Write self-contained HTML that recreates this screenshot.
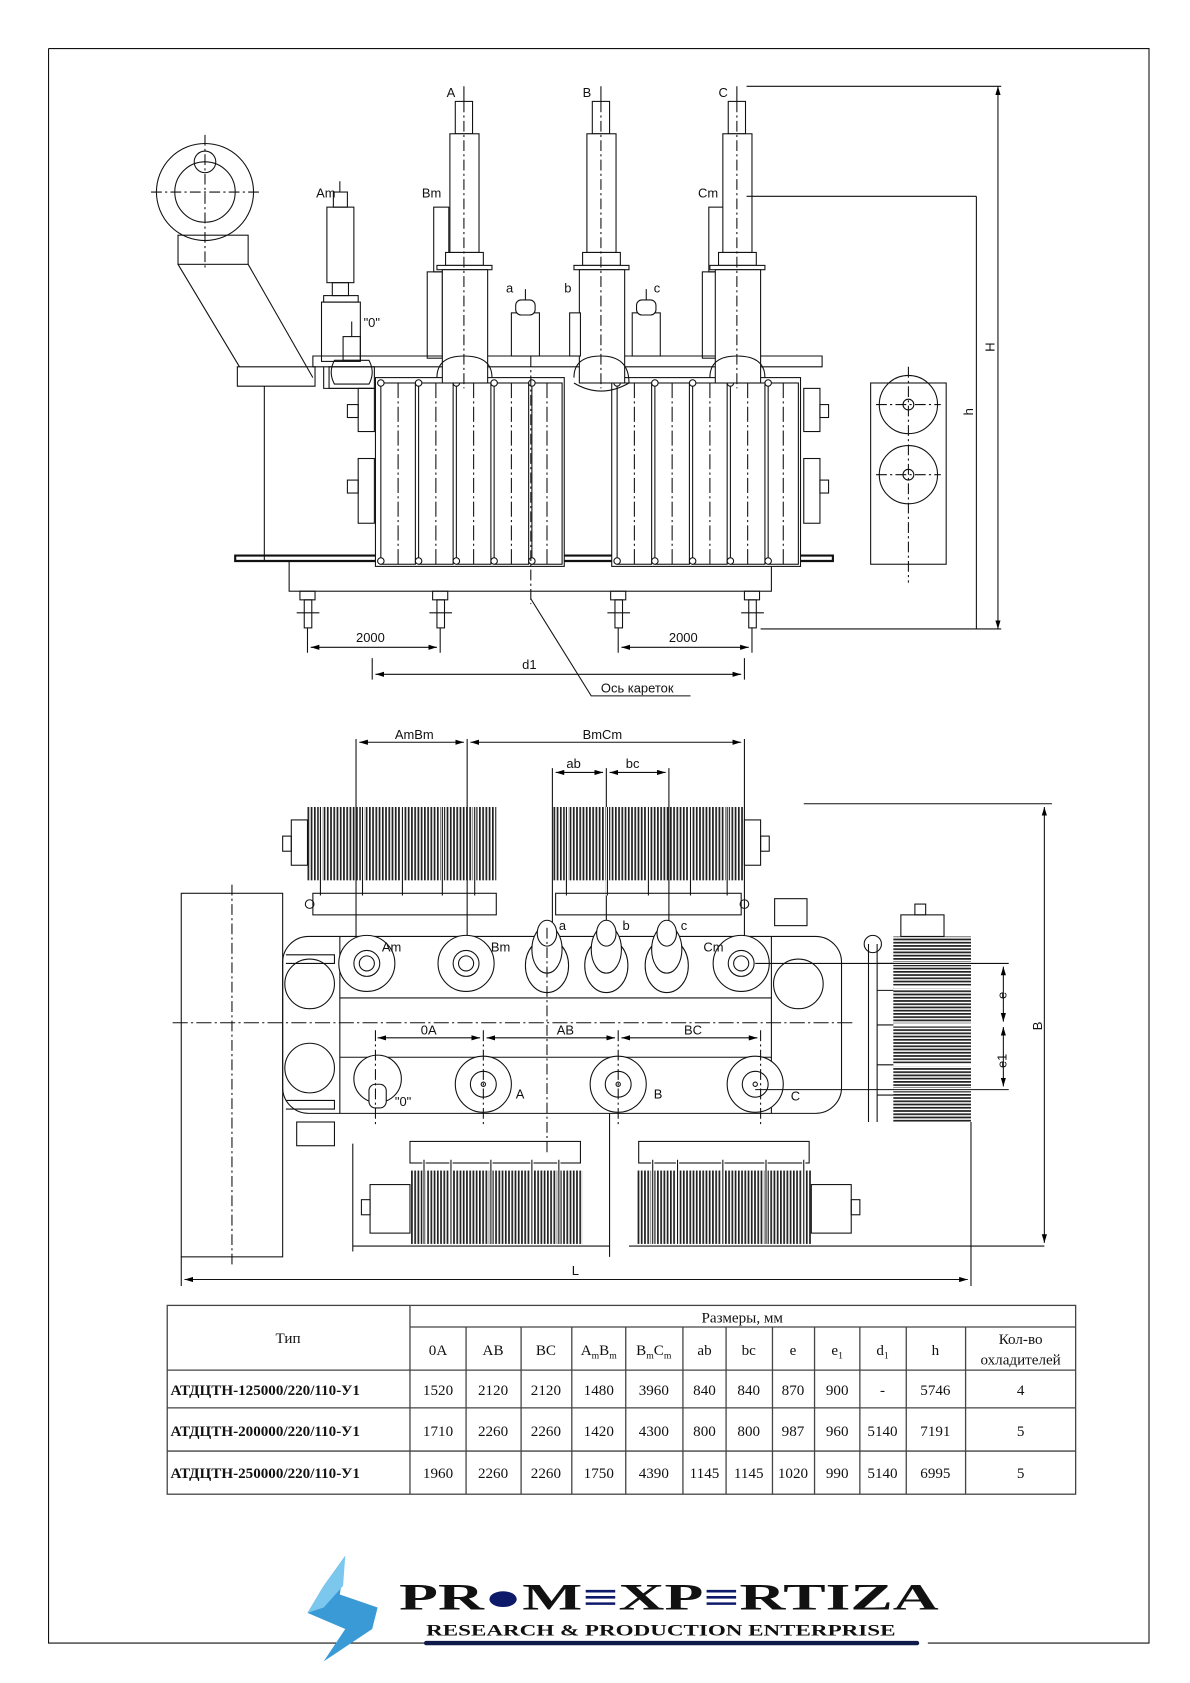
<!DOCTYPE html>
<html><head><meta charset="utf-8"><style>
html,body{margin:0;padding:0;background:#fff}
svg{display:block}
text{font-family:"Liberation Sans","DejaVu Sans",sans-serif;fill:#111}
.t{font-family:"Liberation Serif","DejaVu Serif",serif}
</style></head><body>
<svg width="1190" height="1683" viewBox="0 0 1103 1560" preserveAspectRatio="none" xmlns="http://www.w3.org/2000/svg">
<defs>
<pattern id="fin" width="3" height="10" patternUnits="userSpaceOnUse"><rect x="0" y="0" width="1.6" height="10" fill="#222"/></pattern>
<pattern id="finh" width="10" height="3" patternUnits="userSpaceOnUse"><rect x="0" y="0" width="10" height="1.6" fill="#222"/></pattern>
<marker id="ar" viewBox="0 0 10 6" refX="10" refY="3" markerWidth="8" markerHeight="5" orient="auto-start-reverse"><path d="M0,0L10,3L0,6z" fill="#000"/></marker>
</defs>
<g fill="none" stroke="#111" stroke-width="1">
<!-- border -->
<path d="M45,45H1065V1523H860M395,1523H45V45"/>

<!-- ===== ELEVATION ===== -->
<circle cx="190" cy="178" r="45"/><circle cx="190" cy="178" r="28"/><circle cx="190" cy="150" r="10"/>
<path d="M140,178H240M190,125V250" stroke-dasharray="10,3,2,3"/>
<rect x="165" y="218" width="65" height="27"/>
<path d="M165,245L222,340M230,245L290,350M220,340H292V358H220z"/>
<path d="M245,358V520M290,330H762V340H290zM300,340V360H345"/>
<path d="M218,515H772V520H218z" stroke-width="2"/>
<rect x="268" y="520" width="447" height="28"/>
<g>
<rect x="278" y="548" width="14" height="8"/><rect x="282" y="556" width="7" height="26"/><path d="M275,568H296"/>
<rect x="401" y="548" width="14" height="8"/><rect x="405" y="556" width="7" height="26"/><path d="M398,568H419"/>
<rect x="566" y="548" width="14" height="8"/><rect x="570" y="556" width="7" height="26"/><path d="M563,568H584"/>
<rect x="690" y="548" width="14" height="8"/><rect x="694" y="556" width="7" height="26"/><path d="M687,568H708"/>
</g>
<!-- tank side lugs -->
<rect x="332" y="360" width="15" height="40"/><rect x="332" y="425" width="15" height="60"/><rect x="322" y="375" width="10" height="12"/><rect x="322" y="445" width="10" height="12"/>
<rect x="745" y="360" width="15" height="40"/><rect x="745" y="425" width="15" height="60"/><rect x="760" y="375" width="8" height="12"/><rect x="760" y="445" width="8" height="12"/>
<!-- radiators -->
<g fill="#fff">
<rect x="348" y="350" width="175" height="175"/>
<rect x="353" y="355" width="32" height="168"/><rect x="388" y="355" width="32" height="168"/><rect x="423" y="355" width="32" height="168"/><rect x="458" y="355" width="32" height="168"/><rect x="493" y="355" width="28" height="168"/>
<rect x="567" y="350" width="175" height="175"/>
<rect x="572" y="355" width="32" height="168"/><rect x="607" y="355" width="32" height="168"/><rect x="642" y="355" width="32" height="168"/><rect x="677" y="355" width="32" height="168"/><rect x="712" y="355" width="28" height="168"/>
</g>
<path d="M369,355V523M404,355V523M439,355V523M474,355V523M507,355V523M588,355V523M623,355V523M658,355V523M693,355V523M726,355V523" stroke-dasharray="14,3,2,3"/>
<g fill="#fff"><circle cx="353" cy="355" r="3"/><circle cx="388" cy="355" r="3"/><circle cx="423" cy="355" r="3"/><circle cx="458" cy="355" r="3"/><circle cx="493" cy="355" r="3"/><circle cx="353" cy="520" r="3"/><circle cx="388" cy="520" r="3"/><circle cx="423" cy="520" r="3"/><circle cx="458" cy="520" r="3"/><circle cx="493" cy="520" r="3"/><circle cx="572" cy="355" r="3"/><circle cx="607" cy="355" r="3"/><circle cx="642" cy="355" r="3"/><circle cx="677" cy="355" r="3"/><circle cx="712" cy="355" r="3"/><circle cx="572" cy="520" r="3"/><circle cx="607" cy="520" r="3"/><circle cx="642" cy="520" r="3"/><circle cx="677" cy="520" r="3"/><circle cx="712" cy="520" r="3"/></g>
<!-- Am bushing -->
<rect x="303" y="192" width="25" height="70"/><rect x="309" y="178" width="13" height="14"/><path d="M315,168V178"/><rect x="308" y="262" width="15" height="12"/><rect x="300" y="274" width="32" height="6"/><rect x="298" y="280" width="36" height="55"/>
<!-- Bm / Cm partially hidden -->
<rect x="402" y="192" width="14" height="60"/><rect x="396" y="252" width="14" height="80"/>
<rect x="657" y="192" width="14" height="60"/><rect x="651" y="252" width="14" height="80"/>
<!-- A B C bushings -->
<g fill="#fff">
<rect x="422" y="94" width="16" height="30"/><rect x="417" y="124" width="27" height="110"/><rect x="413" y="234" width="35" height="12"/><rect x="405" y="246" width="51" height="4"/><rect x="410" y="250" width="42" height="105"/>
<rect x="549" y="94" width="16" height="30"/><rect x="544" y="124" width="27" height="110"/><rect x="540" y="234" width="35" height="12"/><rect x="532" y="246" width="51" height="4"/><rect x="537" y="250" width="42" height="105"/>
<rect x="675" y="94" width="16" height="30"/><rect x="670" y="124" width="27" height="110"/><rect x="666" y="234" width="35" height="12"/><rect x="658" y="246" width="51" height="4"/><rect x="663" y="250" width="42" height="105"/>
</g>
<path d="M430,80V94M557,80V94M683,80V94"/>
<path d="M430,94V360M557,94V360M683,94V360" stroke-dasharray="10,3,2,3"/>
<path d="M405,350Q405,330 430,330Q456,330 456,350M532,350Q532,330 557,330Q583,330 583,355Q557,370 532,355M658,350Q658,330 683,330Q709,330 709,350"/>
<!-- a b c -->
<g fill="#fff">
<rect x="474" y="290" width="26" height="40"/><rect x="478" y="278" width="18" height="14" rx="5"/><path d="M487,268V278"/>
<rect x="586" y="290" width="26" height="40"/><rect x="590" y="278" width="18" height="14" rx="5"/><path d="M599,268V278"/>
<rect x="528" y="290" width="10" height="40"/>
</g>
<!-- 0 bushing -->
<rect x="318" y="312" width="16" height="22"/><path d="M326,298V312M310,334H342Q348,345 342,356H310Q304,345 310,334z"/><rect x="305" y="340" width="42" height="20"/>
<!-- side small view -->
<rect x="807" y="355" width="70" height="168"/><circle cx="842" cy="375" r="27"/><circle cx="842" cy="440" r="27"/><circle cx="842" cy="375" r="5"/><circle cx="842" cy="440" r="5"/>
<path d="M812,375H872M812,440H872M842,340V540" stroke-dasharray="10,3,2,3"/>
<!-- H h dims -->
<path d="M692,80H928M692,182H905M705,583H928"/>
<path d="M925,80V583" marker-start="url(#ar)" marker-end="url(#ar)"/>
<path d="M905,182V583"/>
<!-- 2000 dims -->
<path d="M285,582V605M408,582V605M573,582V605M697,582V605M345,610V630M690,610V630"/>
<path d="M288,600H405" marker-start="url(#ar)" marker-end="url(#ar)"/>
<path d="M576,600H694" marker-start="url(#ar)" marker-end="url(#ar)"/>
<path d="M348,625H687" marker-start="url(#ar)" marker-end="url(#ar)"/>
<path d="M492,330V560" stroke-dasharray="10,3,2,3"/>
<path d="M492,555L548,645H640"/>

<!-- ===== PLAN ===== -->
<path d="M330,685V870M433,685V870M690,685V870M512,712V880M562,712V880M620,712V880"/>
<path d="M333,688H430" marker-start="url(#ar)" marker-end="url(#ar)"/>
<path d="M436,688H687" marker-start="url(#ar)" marker-end="url(#ar)"/>
<path d="M515,716H559" marker-start="url(#ar)" marker-end="url(#ar)"/>
<path d="M565,716H617" marker-start="url(#ar)" marker-end="url(#ar)"/>
<!-- top coolers -->
<rect x="285" y="748" width="175" height="68" fill="url(#fin)" stroke="none"/>
<rect x="512" y="748" width="178" height="68" fill="url(#fin)" stroke="none"/>
<rect x="270" y="760" width="15" height="42"/><rect x="262" y="775" width="8" height="14"/>
<rect x="690" y="760" width="15" height="42"/><rect x="705" y="775" width="8" height="14"/>
<path d="M297,748V830M336,748V830M373,748V830M410,748V830M440,748V830M525,748V830M563,748V830M601,748V830M640,748V830M674,748V830" stroke="#fff" stroke-width="3"/>
<path d="M297,748V830M336,748V830M373,748V830M410,748V830M440,748V830M525,748V830M563,748V830M601,748V830M640,748V830M674,748V830"/>
<rect x="290" y="828" width="170" height="20"/><rect x="515" y="828" width="172" height="20"/>
<circle cx="287" cy="838" r="4"/><circle cx="690" cy="838" r="4"/>
<!-- conservator -->
<rect x="168" y="828" width="94" height="337"/><path d="M215,820V1172" stroke-dasharray="10,3,2,3"/>
<rect x="718" y="833" width="30" height="25"/><rect x="275" y="1040" width="35" height="22"/>
<!-- tank plan -->
<rect x="262" y="868" width="518" height="164" rx="24"/>
<path d="M315,868V1032M715,868V1032M315,925H715M315,980H715M265,885H310V893H265M265,1020H310V1028H265"/>
<path d="M160,948H790" stroke-dasharray="14,3,2,3"/>
<circle cx="287" cy="912" r="23"/><circle cx="287" cy="990" r="23"/><circle cx="740" cy="912" r="23"/>
<g fill="#fff">
<circle cx="340" cy="893" r="26"/><circle cx="340" cy="893" r="12"/><circle cx="340" cy="893" r="7"/>
<circle cx="432" cy="893" r="26"/><circle cx="432" cy="893" r="12"/><circle cx="432" cy="893" r="7"/>
<circle cx="687" cy="893" r="26"/><circle cx="687" cy="893" r="12"/><circle cx="687" cy="893" r="7"/>
<circle cx="448" cy="1005" r="26"/><circle cx="448" cy="1005" r="12"/><circle cx="448" cy="1005" r="2"/>
<circle cx="573" cy="1005" r="26"/><circle cx="573" cy="1005" r="12"/><circle cx="573" cy="1005" r="2"/>
<circle cx="700" cy="1005" r="26"/><circle cx="700" cy="1005" r="12"/><circle cx="700" cy="1005" r="2"/>
<ellipse cx="507" cy="895" rx="20" ry="25"/><ellipse cx="507" cy="880" rx="14" ry="22"/><ellipse cx="507" cy="865" rx="9" ry="12"/>
<ellipse cx="562" cy="895" rx="20" ry="25"/><ellipse cx="562" cy="880" rx="14" ry="22"/><ellipse cx="562" cy="865" rx="9" ry="12"/>
<ellipse cx="618" cy="895" rx="20" ry="25"/><ellipse cx="618" cy="880" rx="14" ry="22"/><ellipse cx="618" cy="865" rx="9" ry="12"/>
<ellipse cx="350" cy="1000" rx="22" ry="22"/><rect x="342" y="1005" width="16" height="22" rx="6"/>
</g>
<path d="M348,955V1045M448,955V1045M573,955V1045M705,955V1045" stroke-dasharray="10,3,2,3"/>
<path d="M350,962H445" marker-start="url(#ar)" marker-end="url(#ar)"/>
<path d="M451,962H570" marker-start="url(#ar)" marker-end="url(#ar)"/>
<path d="M576,962H702" marker-start="url(#ar)" marker-end="url(#ar)"/>
<path d="M507,860V1070" stroke-dasharray="10,3,2,3"/>
<path d="M565,1032V1165"/>
<!-- bottom coolers -->
<rect x="380" y="1085" width="160" height="68" fill="url(#fin)" stroke="none"/>
<rect x="590" y="1085" width="162" height="68" fill="url(#fin)" stroke="none"/>
<rect x="343" y="1098" width="37" height="45"/><rect x="335" y="1112" width="8" height="14"/>
<rect x="752" y="1098" width="37" height="45"/><rect x="789" y="1112" width="8" height="14"/>
<rect x="380" y="1058" width="158" height="20"/><rect x="592" y="1058" width="158" height="20"/>
<path d="M393,1075V1153M418,1075V1153M455,1075V1153M493,1075V1153M518,1075V1153M605,1075V1153M628,1075V1153M670,1075V1153M710,1075V1153M745,1075V1153" stroke="#fff" stroke-width="3"/>
<path d="M393,1075V1153M418,1075V1153M455,1075V1153M493,1075V1153M518,1075V1153M605,1075V1153M628,1075V1153M670,1075V1153M710,1075V1153M745,1075V1153"/>
<path d="M327,1060V1160M327,1155H565M583,1155H968"/>
<!-- right cooler -->
<rect x="828" y="868" width="72" height="172" fill="url(#finh)" stroke="none"/>
<path d="M828,893H900M828,915H900M828,950H900M828,987H900M828,1010H900" stroke="#fff" stroke-width="3"/>
<rect x="835" y="848" width="40" height="20"/><rect x="848" y="838" width="10" height="10"/>
<path d="M805,875V1040M813,875V1040M813,893H828M813,918H828M813,950H828M813,987H828M813,1015H828"/>
<circle cx="809" cy="875" r="8"/>
<path d="M700,893H935M700,1010H935M745,745H975"/>
<path d="M930,896V947" marker-start="url(#ar)" marker-end="url(#ar)"/>
<path d="M930,952V1007" marker-start="url(#ar)" marker-end="url(#ar)"/>
<path d="M968,748V1152" marker-start="url(#ar)" marker-end="url(#ar)"/>
<path d="M168,1165V1192M900,1040V1192"/>
<path d="M171,1186H897" marker-start="url(#ar)" marker-end="url(#ar)"/>

<!-- ===== TABLE ===== -->
<g stroke="#444" stroke-width="1.2">
<rect x="155" y="1210" width="842" height="175"/>
<path d="M380,1230H997M155,1270H997M155,1305H997M155,1345H997M380,1210V1385M432,1230V1385M483,1230V1385M530,1230V1385M580,1230V1385M633,1230V1385M673,1230V1385M716,1230V1385M755,1230V1385M797,1230V1385M840,1230V1385M895,1230V1385"/>
</g>
<!-- logo underline -->
<path d="M395,1523H850" stroke="#0d1a4a" stroke-width="4" stroke-linecap="round"/>
</g>

<!-- labels -->
<g font-size="12">
<text x="414" y="90">A</text><text x="540" y="90">B</text><text x="666" y="90">C</text>
<text x="293" y="183">Am</text><text x="391" y="183">Bm</text><text x="647" y="183">Cm</text>
<text x="469" y="271">a</text><text x="523" y="271">b</text><text x="606" y="271">c</text>
<text x="337" y="303">"0"</text>
<text x="330" y="595">2000</text><text x="620" y="595">2000</text><text x="484" y="620">d1</text>
<text x="557" y="642">Ось кареток</text>
<text transform="translate(922,326) rotate(-90)">H</text>
<text transform="translate(902,385) rotate(-90)">h</text>
<text x="366" y="685">AmBm</text><text x="540" y="685">BmCm</text>
<text x="525" y="712">ab</text><text x="580" y="712">bc</text>
<text x="354" y="882">Am</text><text x="455" y="882">Bm</text><text x="652" y="882">Cm</text>
<text x="518" y="862">a</text><text x="577" y="862">b</text><text x="631" y="862">c</text>
<text x="390" y="959">0A</text><text x="516" y="959">AB</text><text x="634" y="959">BC</text>
<text x="478" y="1018">A</text><text x="606" y="1018">B</text><text x="733" y="1020">C</text>
<text x="366" y="1025">"0"</text>
<text transform="translate(933,926) rotate(-90)">e</text>
<text transform="translate(933,990) rotate(-90)">e1</text>
<text transform="translate(966,955) rotate(-90)">B</text>
<text x="530" y="1182">L</text>
</g>
<g class="t" font-size="14" text-anchor="middle">
<text class="t" x="688" y="1226">Размеры, мм</text>
<text class="t" x="267" y="1245">Тип</text>
<text class="t" x="406" y="1256">0A</text><text class="t" x="457" y="1256">AB</text><text class="t" x="506" y="1256">BC</text>
<text class="t" x="555" y="1256">A<tspan font-size="9" dy="3">m</tspan><tspan dy="-3">B</tspan><tspan font-size="9" dy="3">m</tspan></text>
<text class="t" x="606" y="1256">B<tspan font-size="9" dy="3">m</tspan><tspan dy="-3">C</tspan><tspan font-size="9" dy="3">m</tspan></text>
<text class="t" x="653" y="1256">ab</text><text class="t" x="694" y="1256">bc</text><text class="t" x="735" y="1256">e</text>
<text class="t" x="776" y="1256">e<tspan font-size="9" dy="3">1</tspan></text>
<text class="t" x="818" y="1256">d<tspan font-size="9" dy="3">1</tspan></text>
<text class="t" x="867" y="1256">h</text>
<text class="t" x="946" y="1246">Кол-во</text><text class="t" x="946" y="1265">охладителей</text>
<g font-weight="bold" text-anchor="start"><text class="t" x="158" y="1293">АТДЦТН-125000/220/110-У1</text><text class="t" x="158" y="1331">АТДЦТН-200000/220/110-У1</text><text class="t" x="158" y="1370">АТДЦТН-250000/220/110-У1</text></g>
<text class="t" x="406" y="1293">1520</text><text class="t" x="457" y="1293">2120</text><text class="t" x="506" y="1293">2120</text><text class="t" x="555" y="1293">1480</text><text class="t" x="606" y="1293">3960</text><text class="t" x="653" y="1293">840</text><text class="t" x="694" y="1293">840</text><text class="t" x="735" y="1293">870</text><text class="t" x="776" y="1293">900</text><text class="t" x="818" y="1293">-</text><text class="t" x="867" y="1293">5746</text><text class="t" x="946" y="1293">4</text>
<text class="t" x="406" y="1331">1710</text><text class="t" x="457" y="1331">2260</text><text class="t" x="506" y="1331">2260</text><text class="t" x="555" y="1331">1420</text><text class="t" x="606" y="1331">4300</text><text class="t" x="653" y="1331">800</text><text class="t" x="694" y="1331">800</text><text class="t" x="735" y="1331">987</text><text class="t" x="776" y="1331">960</text><text class="t" x="818" y="1331">5140</text><text class="t" x="867" y="1331">7191</text><text class="t" x="946" y="1331">5</text>
<text class="t" x="406" y="1370">1960</text><text class="t" x="457" y="1370">2260</text><text class="t" x="506" y="1370">2260</text><text class="t" x="555" y="1370">1750</text><text class="t" x="606" y="1370">4390</text><text class="t" x="653" y="1370">1145</text><text class="t" x="694" y="1370">1145</text><text class="t" x="735" y="1370">1020</text><text class="t" x="776" y="1370">990</text><text class="t" x="818" y="1370">5140</text><text class="t" x="867" y="1370">6995</text><text class="t" x="946" y="1370">5</text>
</g>
<!-- logo -->
<path d="M320,1442L300,1470L285,1495L320,1510L300,1540L345,1510L350,1490L315,1478Z" fill="#3a9ad6"/>
<path d="M320,1442L318,1470L300,1490L285,1495L300,1470Z" fill="#7cc7ee"/>
<text class="t" x="370" y="1492" font-size="34" font-weight="bold" fill="#111" textLength="500" lengthAdjust="spacingAndGlyphs">PR<tspan fill="#0d1a6a">●</tspan>M<tspan fill="#0d1a6a">≡</tspan>XP<tspan fill="#0d1a6a">≡</tspan>RTIZA</text>
<text class="t" x="395" y="1516" font-size="15" font-weight="bold" textLength="435" lengthAdjust="spacingAndGlyphs">RESEARCH &amp; PRODUCTION ENTERPRISE</text>
</svg>
</body></html>
